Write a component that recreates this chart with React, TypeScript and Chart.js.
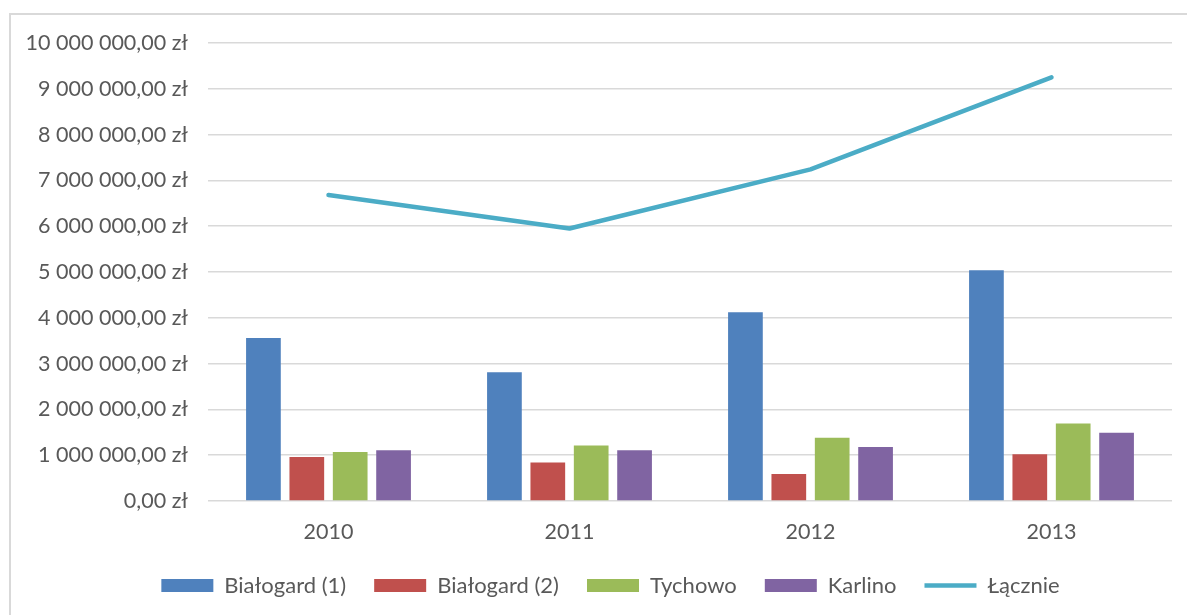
import React, { useEffect, useRef } from "react";
import { Chart, registerables } from "chart.js";

Chart.register(...registerables);

const years = ["2010", "2011", "2012", "2013"];
const bialogard1 = [3560000, 2810000, 4120000, 5040000];
const bialogard2 = [960000, 840000, 590000, 1020000];
const tychowo = [1070000, 1210000, 1380000, 1690000];
const karlino = [1110000, 1110000, 1180000, 1490000];
const lacznie = [6680000, 5950000, 7240000, 9250000];

const seriesNames = ["Białogard (1)", "Białogard (2)", "Tychowo", "Karlino", "Łącznie"];
const colors = ["#4F81BD", "#C0504D", "#9BBB59", "#8064A2", "#4BACC6"];

const FONT = "Lato, 'Open Sans', sans-serif";
const TEXT = "#595959";
const GRID = "#D9D9D9";
const CANVAS_W = 1221;

function formatZl(v: number): string {
  const fixed = Math.abs(v).toFixed(2);
  const [intPart, dec] = fixed.split(".");
  const withSpaces = intPart.replace(/\B(?=(\d{3})+(?!\d))/g, " ");
  return (v < 0 ? "-" : "") + withSpaces + "," + dec + " zł";
}

export default function App() {
  const ref = useRef<HTMLCanvasElement | null>(null);

  useEffect(() => {
    if (!ref.current) return;
    const barData = [bialogard1, bialogard2, tychowo, karlino];
    const datasets: any[] = barData.map((d, i) => ({
      type: "bar",
      label: seriesNames[i],
      data: d,
      backgroundColor: colors[i],
      borderWidth: 0,
      pointStyle: "rect",
      categoryPercentage: 0.72,
      barPercentage: 0.8,
      yAxisID: "y",
    }));
    datasets.push({
      type: "line",
      label: seriesNames[4],
      data: lacznie,
      borderColor: colors[4],
      backgroundColor: colors[4],
      borderWidth: 4.5,
      borderCapStyle: "round",
      borderJoinStyle: "round",
      pointRadius: 0,
      pointHoverRadius: 0,
      pointStyle: "line",
      tension: 0,
      fill: false,
      yAxisID: "y",
    });

    const chart = new Chart(ref.current, {
      type: "bar",
      data: { labels: years, datasets },
      options: {
        responsive: false,
        animation: false,
        layout: { padding: { left: 0, right: 0, top: 43, bottom: 8.5 } },
        plugins: {
          tooltip: { enabled: false },
          legend: {
            position: "bottom",
            labels: {
              usePointStyle: true,
              pointStyleWidth: 52,
              boxHeight: 13,
              padding: 28,
              color: TEXT,
              font: { family: FONT, size: 22 },
            },
          },
        },
        scales: {
          x: {
            grid: { display: false, drawTicks: false },
            border: { display: false },
            ticks: {
              color: TEXT,
              font: { family: FONT, size: 21.5 },
              padding: 18,
              maxRotation: 0,
            },
            afterFit: (scale: any) => {
              scale.height = 45.5;
            },
          },
          y: {
            position: "left",
            min: 0,
            max: 10000000,
            grid: { color: GRID, lineWidth: 1.5, drawTicks: false },
            border: { display: false },
            ticks: {
              stepSize: 1000000,
              color: TEXT,
              font: { family: FONT, size: 21.5 },
              padding: 20,
              callback: (v: any) => formatZl(Number(v)),
            },
            afterFit: (scale: any) => {
              scale.width = 208;
            },
          },
          spacer: {
            position: "right",
            min: 0,
            max: 1,
            grid: { display: false, drawTicks: false },
            border: { display: false },
            ticks: { display: false },
            afterFit: (scale: any) => {
              scale.width = CANVAS_W - 1172;
            },
          },
        },
      } as any,
    });
    return () => chart.destroy();
  }, []);

  return (
    <div
      style={{
        position: "absolute",
        left: 0,
        top: 0,
        width: 1187,
        height: 615,
        overflow: "hidden",
        background: "#ffffff",
      }}
    >
      <div
        style={{
          position: "absolute",
          left: 9,
          top: 13,
          width: 1300,
          height: 800,
          borderTop: "2px solid #D9D9D9",
          borderLeft: "2px solid #D9D9D9",
        }}
      />
      <canvas
        ref={ref}
        width={CANVAS_W}
        height={615}
        style={{ position: "absolute", left: 0, top: 0, display: "block" }}
      />
    </div>
  );
}
